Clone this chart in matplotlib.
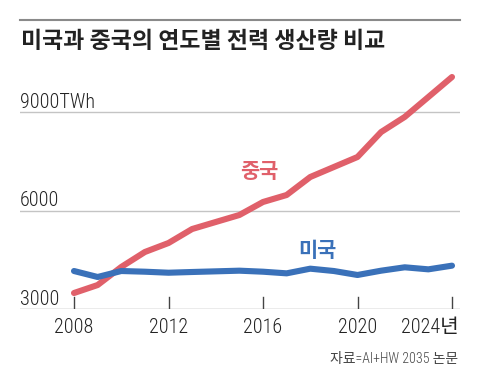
import matplotlib
matplotlib.use("Agg")
import matplotlib.pyplot as plt
from matplotlib.lines import Line2D
from matplotlib import font_manager as fm

years = list(range(2008, 2025))
china = [3487, 3730, 4280, 4736, 5010, 5436, 5650, 5863, 6259, 6472,
         7020, 7325, 7630, 8390, 8850, 9457, 10066]
usa = [4157, 3975, 4157, 4136, 4105, 4127, 4147, 4167, 4136, 4086,
       4228, 4157, 4036, 4167, 4270, 4208, 4320]
xticks = [2008, 2012, 2016, 2020, 2024]
xticklabels = ["2008", "2012", "2016", "2020", "2024년"]
yticks = [3000, 6000, 9000]
yticklabels = ["3000", "6000", "9000TWh"]
title = "미국과 중국의 연도별 전력 생산량 비교"
source = "자료=AI+HW 2035 논문"

names = {f.name for f in fm.fontManager.ttflist}
num_font = "Liberation Sans"
for cand in ["Roboto Condensed", "Archivo Narrow", "Barlow Semi Condensed", "Liberation Sans Narrow"]:
    if cand in names:
        num_font = cand
        break
NUM = [num_font, "Noto Sans CJK KR", "DejaVu Sans"]
KR = ["Noto Sans CJK KR", "DejaVu Sans"]

W, H = 480, 380
fig = plt.figure(figsize=(W / 100, H / 100), dpi=100)
fig.patch.set_facecolor("white")

# axes: left x=20, right x=460, top y=60, bottom y=309 (pixels)
ax = fig.add_axes([20 / W, 1 - 309 / H, 440 / W, (309 - 60) / H])
ax.set_xlim(2008 - 54 / 23.625, 2024 + 8 / 23.625)
ax.set_ylim(3000, 3000 + (309 - 60) / 98.5 * 3000)
ax.axis("off")

red = "#E0606A"
blue = "#3A71B9"

# grid lines
for v in yticks[1:]:
    ax.axhline(v, color="#c4c4c4", lw=1.0, zorder=1)
ax.axhline(3000, color="#9a9a9a", lw=1.0, zorder=1)

# ticks (upwards from baseline)
for x in xticks:
    ax.add_line(Line2D([x, x], [3000, 3000 + 12 / 98.5 * 3000], color="#444444", lw=1.0, zorder=2))

ax.plot(years, china, color=red, lw=4.4, solid_capstyle="round", solid_joinstyle="round", zorder=3, clip_on=False)
ax.plot(years, usa, color=blue, lw=4.4, solid_capstyle="round", solid_joinstyle="round", zorder=4, clip_on=False)

# y labels
for v, lab in zip(yticks, yticklabels):
    ax.annotate(lab, xy=(0, v), xycoords=("axes fraction", "data"), xytext=(0, 3.2),
                textcoords="offset points", ha="left", va="baseline",
                fontsize=14.5, family=NUM, fontweight="light", color="#222222")

# x labels
for x, lab in zip(xticks, xticklabels):
    if lab.endswith("년"):
        ax.annotate(lab, xy=(x, 0), xycoords=("data", "axes fraction"), xytext=(4.5, -13),
                    textcoords="offset points", ha="right", va="center",
                    fontsize=14.5, family=NUM, fontweight="light", color="#222222")
    else:
        ax.annotate(lab, xy=(x, 0), xycoords=("data", "axes fraction"), xytext=(0, -13),
                    textcoords="offset points", ha="center", va="center",
                    fontsize=14.5, family=NUM, fontweight="light", color="#222222")

# series labels
ax.annotate("중국", xy=(2015.85, 7180), xycoords="data", ha="center", va="center",
            fontsize=15, family=KR, fontweight="bold", color=red)
ax.annotate("미국", xy=(2018.3, 4790), xycoords="data", ha="center", va="center",
            fontsize=15, family=KR, fontweight="bold", color=blue)

# top rule
fig.add_artist(Line2D([20 / W, 460 / W], [1 - 20 / H, 1 - 20 / H], color="#8a8a8a", lw=1.5))

fig.text(21 / W, 1 - 42 / H, title, ha="left", va="center", fontsize=16.5,
         family=KR, fontweight="bold", color="#222222")
fig.text(458 / W, 1 - 359 / H, source, ha="right", va="center", fontsize=10,
         family=NUM, fontweight="light", color="#444444")

fig.savefig("out.png", dpi=100, facecolor="white")
